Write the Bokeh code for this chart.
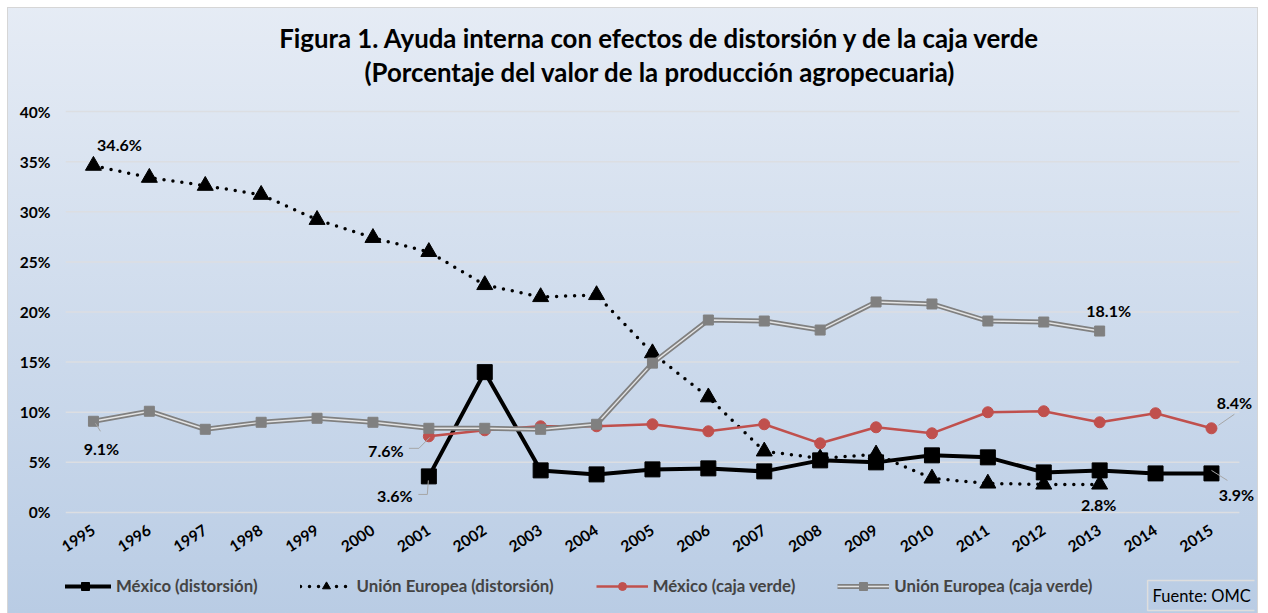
import math
from bokeh.plotting import figure
from bokeh.layouts import column
from bokeh.models import (Range1d, FixedTicker, PrintfTickFormatter, Legend, LegendItem,
                          Label, Title, ColumnDataSource)
from bokeh.embed import file_html
from bokeh.resources import INLINE

NaN = float("nan")

# ---------------- data ----------------
years = [1995, 1996, 1997, 1998, 1999, 2000, 2001, 2002, 2003, 2004, 2005,
         2006, 2007, 2008, 2009, 2010, 2011, 2012, 2013, 2014, 2015]
mexico_distorsion = [NaN, NaN, NaN, NaN, NaN, NaN, 3.6, 14.0, 4.2, 3.8, 4.3,
                     4.4, 4.1, 5.2, 5.0, 5.7, 5.5, 4.0, 4.2, 3.9, 3.9]
ue_distorsion = [34.6, 33.4, 32.6, 31.7, 29.2, 27.4, 26.0, 22.7, 21.5, 21.7, 15.9,
                 11.5, 6.1, 5.4, 5.8, 3.4, 2.9, 2.8, 2.8, NaN, NaN]
mexico_caja_verde = [NaN, NaN, NaN, NaN, NaN, NaN, 7.6, 8.2, 8.6, 8.6, 8.8,
                     8.1, 8.8, 6.9, 8.5, 7.9, 10.0, 10.1, 9.0, 9.9, 8.4]
ue_caja_verde = [9.1, 10.1, 8.3, 9.0, 9.4, 9.0, 8.4, 8.4, 8.3, 8.8, 14.9,
                 19.2, 19.1, 18.2, 21.0, 20.8, 19.1, 19.0, 18.1, NaN, NaN]
y_ticks = [0, 5, 10, 15, 20, 25, 30, 35, 40]
series_names = ["México (distorsión)", "Unión Europea (distorsión)",
                "México (caja verde)", "Unión Europea (caja verde)"]
title_line1 = "Figura 1. Ayuda interna con efectos de distorsión y de la caja verde"
title_line2 = "(Porcentaje del valor de la producción agropecuaria)"
source_text = "Fuente: OMC"

FONT = "Lato"
C_MD = "black"
C_MC = "#c0504d"
C_UC = "#808080"
C_UC_IN = "#e4e4e4"

src = ColumnDataSource(dict(year=years, md=mexico_distorsion, ud=ue_distorsion,
                            mc=mexico_caja_verde, uc=ue_caja_verde))

X_LO, X_HI = years[0] - 0.5, years[-1] + 0.5


def draw_series(fig):
    """Draw the four series on a figure; returns the renderers per series."""
    r = []
    r.append([fig.line("year", "md", source=src, line_color=C_MD, line_width=4),
              fig.scatter("year", "md", source=src, marker="square", size=15, color=C_MD)])
    r.append([fig.line("year", "ud", source=src, line_color="black", line_width=3.5,
                       line_dash="0 9", line_cap="round"),
              fig.scatter("year", "ud", source=src, marker="triangle", size=16, color="black")])
    r.append([fig.line("year", "mc", source=src, line_color=C_MC, line_width=2.5),
              fig.scatter("year", "mc", source=src, marker="circle", size=11, color=C_MC)])
    r.append([fig.line("year", "uc", source=src, line_color=C_UC, line_width=5),
              fig.line("year", "uc", source=src, line_color=C_UC_IN, line_width=1.4),
              fig.scatter("year", "uc", source=src, marker="square", size=10, color=C_UC)])
    return r


# ---------------- main chart ----------------
p = figure(frame_width=1189, frame_height=409, output_backend="svg", toolbar_location=None,
           x_range=Range1d(X_LO, X_HI + 0.27), y_range=Range1d(-0.4, 40.4),
           min_border_left=65, min_border_right=14, min_border_top=107,
           min_border_bottom=44, title=None)
p.styles = {"background": "linear-gradient(to bottom, #e6ecf5 0%, #bdcfe6 100%)",
            "box-shadow": "inset 7px 7px 0 0 #ffffff, inset -10px 0 0 0 #ffffff, "
                          "inset 8px 8px 0 0 #d6d6d6, inset -11px 0 0 0 #d6d6d6"}
p.border_fill_color = None
p.background_fill_color = None
p.outline_line_color = None

# titles: spacer (closest to the frame), second line, first line
p.add_layout(Title(text=" ", text_font_size="1px", standoff=18), "above")
p.add_layout(Title(text=title_line2, align="center", text_font=FONT, text_font_size="25.8px",
                   text_font_style="bold", text_color="black", standoff=0), "above")
p.add_layout(Title(text=title_line1, align="center", text_font=FONT, text_font_size="25.8px",
                   text_font_style="bold", text_color="black", standoff=3), "above")

# axes
p.yaxis.ticker = FixedTicker(ticks=y_ticks)
p.yaxis.formatter = PrintfTickFormatter(format="%d%%")
p.xaxis.ticker = FixedTicker(ticks=years)
p.xaxis.major_label_overrides = {y: str(y) for y in years}
p.xaxis.major_label_orientation = math.radians(33)
for ax in (p.xaxis, p.yaxis):
    ax.axis_line_color = None
    ax.major_tick_line_color = None
    ax.minor_tick_line_color = None
    ax.major_tick_out = 0
    ax.major_tick_in = 0
    ax.major_label_text_font = FONT
    ax.major_label_text_font_style = "bold"
    ax.major_label_text_font_size = "15.5px"
    ax.major_label_text_color = "black"
p.yaxis.major_label_standoff = 15
p.xaxis.major_label_standoff = 12
p.xgrid.visible = False
p.ygrid.visible = False

# horizontal gridlines spanning the category band only
p.segment(x0=[X_LO] * len(y_ticks), x1=[X_HI] * len(y_ticks), y0=y_ticks, y1=y_ticks,
          line_color="#dcdee2", line_width=1.5)

draw_series(p)

# data labels (pixel offsets from the data point)
def add_label(xv, yv, dx, dy):
    p.add_layout(Label(x=xv, y=yv, x_offset=dx, y_offset=dy, text=f"{yv:.1f}%",
                       text_align="center", text_baseline="middle", text_font=FONT,
                       text_font_size="16px", text_font_style="bold", text_color="black"))

def leader(xv, yv, pts):
    xs = [xv + a for a, b in pts]
    ys = [yv + b for a, b in pts]
    p.line(xs, ys, line_color="#a6a6a6", line_width=1)

add_label(years[0], ue_distorsion[0], 26, 21)
add_label(years[0], ue_caja_verde[0], 8, -27)
leader(years[0], ue_caja_verde[0], [(0.036, -0.2), (0.125, -1.0)])
add_label(years[6], mexico_caja_verde[6], -43, -14)
leader(years[6], mexico_caja_verde[6], [(-0.356, -1.2), (-0.178, -1.2), (0.018, -0.1)])
add_label(years[6], mexico_distorsion[6], -34, -19)
leader(years[6], mexico_distorsion[6], [(-0.187, -1.8), (-0.027, -1.8), (-0.009, -0.4)])
add_label(years[18], ue_caja_verde[18], 9, 21)
add_label(years[18], ue_distorsion[18], -1, -20)
add_label(years[20], mexico_caja_verde[20], 23, 26)
leader(years[20], mexico_caja_verde[20], [(0.125, 0.3), (0.41, 1.4)])
add_label(years[20], mexico_distorsion[20], 25, -21)
leader(years[20], mexico_distorsion[20], [(0.0, 0.3), (0.285, -0.7)])

# ---------------- legend strip ----------------
# (series are drawn again here, outside the visible x range, only to feed the legend)
W2, H2 = 1268, 53
q = figure(width=W2, height=H2, output_backend="svg", toolbar_location=None,
           x_range=Range1d(0, W2), y_range=Range1d(0, H2), x_axis_type=None,
           y_axis_type=None, min_border=0, title=None)
q.styles = {"background": "linear-gradient(to bottom, #bdcfe6 0%, #b9cce4 100%)",
            "box-shadow": "inset 7px 0 0 0 #ffffff, inset -10px 0 0 0 #ffffff, "
                          "inset 8px 0 0 0 #d6d6d6, inset -11px 0 0 0 #d6d6d6"}
q.border_fill_color = None
q.background_fill_color = None
q.outline_line_color = None
q.xgrid.visible = False
q.ygrid.visible = False

lr = draw_series(q)

legend = Legend(items=[LegendItem(label=n, renderers=r) for n, r in zip(series_names, lr)],
                orientation="horizontal", location=(-6, 17), glyph_width=52, glyph_height=20,
                label_standoff=5, spacing=42, label_text_font=FONT,
                label_text_font_style="bold", label_text_font_size="16.8px",
                label_height=20, background_fill_alpha=0, border_line_color=None,
                padding=0, margin=0)
q.add_layout(legend)

q.add_layout(Label(x=1154, y=3, text=source_text, text_font=FONT, text_font_size="16.5px",
                   text_color="black", text_align="left", text_baseline="bottom",
                   border_line_color="#dedede", border_line_width=1.5, padding=5))

open("out.html", "w").write(file_html(column(p, q, spacing=0), INLINE))
